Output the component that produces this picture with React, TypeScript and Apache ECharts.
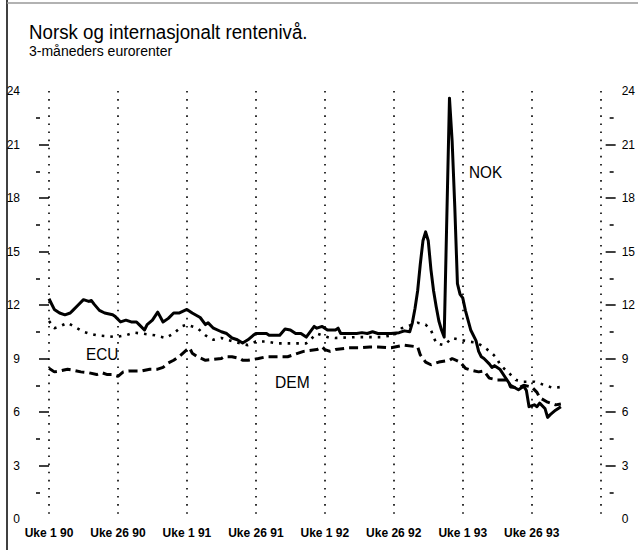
import React, { useEffect, useRef } from "react";
import * as echarts from "echarts";

const FONT = "'Liberation Sans Narrow', 'Liberation Sans', Arial, sans-serif";

const titleText = "Norsk og internasjonalt rentenivå.";
const subtitleText = "3-måneders eurorenter";

// x ticks every 26 weeks, starting at week 1 1990 (index 0)
const xTickLabels = ["Uke 1 90", "Uke 26 90", "Uke 1 91", "Uke 26 91", "Uke 1 92", "Uke 26 92", "Uke 1 93", "Uke 26 93", ""];
const yMajorTicks = [3, 6, 9, 12, 15, 18, 21];
const yMinorTicks = [1.5, 4.5, 7.5, 10.5, 13.5, 16.5, 19.5, 22.5];

const nokWeeks = [
  0, 2, 4, 6, 8, 9, 11, 13, 15, 16, 17, 19, 21, 24, 25, 27, 29, 31, 33, 34, 36, 37, 39, 41, 43,
  45, 47, 49, 52, 54, 57, 59, 60, 62, 65, 67, 69, 71, 73, 75, 77, 78, 82, 83, 87, 89, 91, 93, 95, 97,
  100, 101, 103, 105, 108, 109, 110, 113, 116, 118, 120, 122, 124, 129, 132, 134,
  136, 137, 138, 139, 140, 141, 142, 143, 144, 145, 146, 147, 148, 149, 151, 152, 153, 154, 155, 156, 157,
  159, 161, 162, 163, 164, 166, 167, 168, 170, 172, 174, 177, 179, 180, 181, 183, 184, 185, 187, 188,
  189, 191, 193,
];
const nokValues = [
  12.35, 11.75, 11.55, 11.45, 11.55, 11.7, 12.0, 12.3, 12.2, 12.25, 12.05, 11.7, 11.55, 11.45, 11.35,
  11.05, 11.15, 11.05, 11.05, 10.9, 10.6, 10.9, 11.15, 11.6, 11.05, 11.25, 11.55, 11.55, 11.75, 11.55,
  11.3, 10.9, 11.0, 10.7, 10.5, 10.4, 10.15, 10.05, 9.87, 10.05, 10.3, 10.4, 10.4, 10.3, 10.3,
  10.65, 10.6, 10.4, 10.4, 10.2, 10.8, 10.7, 10.8, 10.6, 10.6, 10.7, 10.4, 10.4, 10.4, 10.45,
  10.4, 10.5, 10.4, 10.4, 10.45, 10.55,
  10.5, 11.0, 11.8, 12.8, 14.3, 15.6, 16.1, 15.6, 14.0, 12.8, 11.9, 11.1, 10.6, 10.2,
  23.6, 21.2, 17.5, 13.2, 12.6, 12.4, 11.7,
  10.6, 10.0, 9.4, 9.1, 9.0, 8.7, 8.5, 8.6, 8.4, 7.95, 7.5, 7.25, 7.45, 7.2, 6.3,
  6.4, 6.3, 6.5, 6.2, 5.7, 5.85, 6.1, 6.3,
];

const ecuWeeks = [
  0, 2, 4, 7, 10, 13, 15, 18, 22, 25, 29, 32, 35, 40, 44, 47, 50, 52, 56, 59, 62, 65, 72, 75, 78,
  82, 86, 93, 97, 101, 105, 108, 116, 121, 125, 130, 133, 139, 142, 144, 146, 149, 152, 155, 158,
  161, 164, 167, 169, 170, 173, 176, 179, 183, 187, 190, 193,
];
const ecuValues = [
  11.1, 10.7, 10.8, 11.0, 10.75, 10.5, 10.4, 10.3, 10.25, 10.2, 10.3, 10.45, 10.4, 10.3, 10.15,
  10.4, 10.8, 10.9, 10.7, 10.3, 10.05, 10.15, 9.85, 9.75, 9.95, 9.95, 9.85, 9.85, 9.85, 10.4,
  10.2, 10.15, 10.2, 10.2, 10.2, 10.3, 10.7, 11.0, 10.9, 10.6, 9.85, 9.75, 10.15, 10.05, 9.95,
  9.9, 9.65, 9.3, 9.0, 8.65, 8.25, 7.8, 7.7, 7.7, 7.5, 7.35, 7.4,
];

const demWeeks = [
  0, 2, 4, 7, 9, 12, 15, 18, 20, 22, 24, 26, 28, 30, 33, 35, 38, 41, 43, 45, 47, 49, 52, 53, 54,
  56, 59, 62, 65, 66, 69, 72, 73, 75, 79, 82, 87, 90, 94, 96, 101, 103, 104, 106, 108, 113, 117, 121,
  124, 129, 134, 139, 140, 142, 144, 147, 151, 152, 155, 157, 159, 162, 164, 166, 169, 173, 174, 177,
  179, 182, 184, 185, 188, 191, 193,
];
const demValues = [
  8.45, 8.25, 8.3, 8.4, 8.35, 8.25, 8.2, 8.1, 8.2, 8.1, 8.1, 8.0, 8.25, 8.3, 8.3, 8.3, 8.4, 8.4, 8.5,
  8.75, 8.9, 9.1, 9.5, 9.6, 9.3, 9.1, 8.9, 8.95, 9.0, 9.1, 9.1, 9.0, 8.9, 8.9, 9.0, 9.1, 9.1, 9.1,
  9.3, 9.4, 9.5, 9.65, 9.5, 9.4, 9.5, 9.6, 9.6, 9.65, 9.65, 9.6, 9.75, 9.65, 9.2, 8.8, 8.65, 8.8,
  8.9, 9.0, 8.8, 8.45, 8.35, 8.25, 8.3, 7.9, 7.8, 7.8, 7.4, 7.35, 7.5, 7.4, 7.1, 6.8, 6.55, 6.4, 6.45,
];

const pairs = (w: number[], v: number[]) => w.map((x, i) => [x, v[i]]);

function yAxis(position: string, offset: number, len: number, ticks: number[], labels: boolean, margin: number) {
  return {
    type: "value",
    position,
    offset,
    min: 0,
    max: 24,
    interval: 3,
    splitLine: { show: false },
    axisLine: { show: false },
    axisTick: {
      show: true,
      customValues: ticks,
      length: len,
      inside: false,
      lineStyle: { color: "#000", width: 1.5 },
    },
    axisLabel: {
      show: labels,
      margin,
      color: "#000",
      fontFamily: FONT,
      fontSize: 12,
    },
  };
}

export default function App() {
  const ref = useRef<HTMLDivElement>(null);
  useEffect(() => {
    document.body.style.margin = "0";
    const chart = echarts.init(ref.current!, null, { renderer: "svg" });
    chart.setOption({
      animation: false,
      backgroundColor: "#fff",
      grid: { left: 49, right: 35, top: 91, bottom: 31, containLabel: false },
      xAxis: {
        type: "value",
        min: 0,
        max: 208,
        interval: 26,
        axisLine: { show: false },
        axisTick: { show: false },
        splitLine: { show: true, lineStyle: { color: "#000", width: 1.6, type: [1.6, 6.5] } },
        axisLabel: {
          margin: 8,
          color: "#000",
          fontFamily: FONT,
          fontWeight: "bold",
          fontSize: 12,
          formatter: (v: number) => xTickLabels[Math.round(v / 26)] ?? "",
        },
      },
      yAxis: [
        yAxis("left", 6, 10, yMajorTicks, true, 23),
        yAxis("left", 9, 4, yMinorTicks, false, 0),
        yAxis("right", 5, 10, yMajorTicks, true, 16),
        yAxis("right", 9, 4, yMinorTicks, false, 0),
      ],
      series: [
        {
          name: "ECU",
          type: "line",
          showSymbol: false,
          data: pairs(ecuWeeks, ecuValues),
          lineStyle: { color: "#000", width: 2.6, type: [2.6, 6] },
        },
        {
          name: "DEM",
          type: "line",
          showSymbol: false,
          data: pairs(demWeeks, demValues),
          lineStyle: { color: "#000", width: 3, type: [9, 5] },
        },
        {
          name: "NOK",
          type: "line",
          showSymbol: false,
          data: pairs(nokWeeks, nokValues),
          lineStyle: { color: "#000", width: 3, join: "round" },
        },
      ],
      graphic: [
        { type: "line", shape: { x1: 7, y1: 0, x2: 7, y2: 550 }, style: { stroke: "#000", lineWidth: 1.5 } },
        { type: "line", shape: { x1: 7, y1: 3, x2: 638, y2: 3 }, style: { stroke: "#999", lineWidth: 1.5 } },
        {
          type: "text",
          x: 29,
          y: 22,
          scaleX: 0.935,
          style: { text: titleText, font: `20px ${FONT}`, fill: "#000" },
        },
        {
          type: "text",
          x: 29,
          y: 44,
          style: { text: subtitleText, font: `14px ${FONT}`, fill: "#000" },
        },
        { type: "text", x: 469, y: 163, scaleX: 0.9, style: { text: "NOK", font: `17px ${FONT}`, fill: "#000" } },
        { type: "text", x: 86, y: 345, scaleX: 0.9, style: { text: "ECU", font: `17px ${FONT}`, fill: "#000" } },
        { type: "text", x: 275, y: 373, scaleX: 0.92, style: { text: "DEM", font: `17px ${FONT}`, fill: "#000" } },
      ],
    });
    return () => chart.dispose();
  }, []);
  return <div ref={ref} style={{ position: "absolute", left: 0, top: 0, width: 638, height: 550 }} />;
}
